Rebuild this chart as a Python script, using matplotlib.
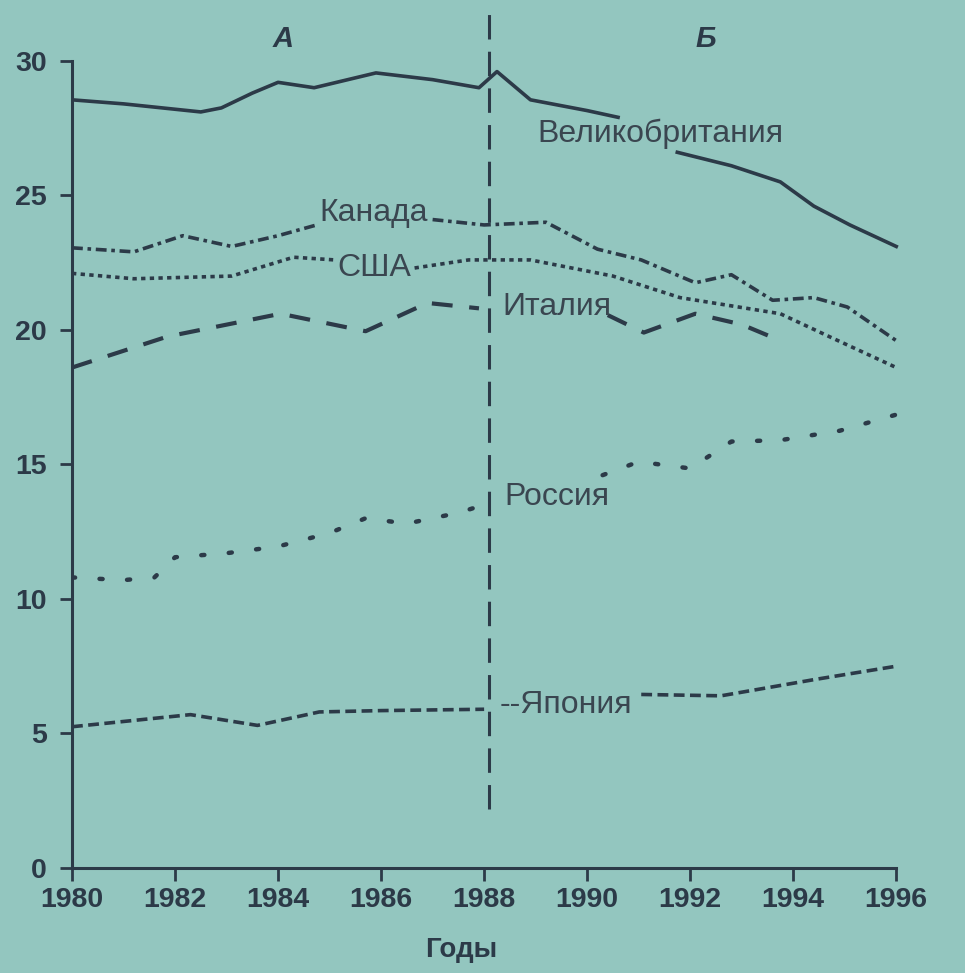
import numpy as np
import matplotlib.pyplot as plt

# Data (years, values)
uk_x1 = [1980, 1981, 1982.5, 1982.9, 1983.5, 1984, 1984.7, 1985.9, 1987, 1987.9, 1988.25, 1988.9, 1990, 1990.6]
uk_y1 = [28.55, 28.4, 28.1, 28.25, 28.8, 29.2, 29.0, 29.55, 29.3, 29.0, 29.6, 28.55, 28.15, 27.9]
uk_x2 = [1991.75, 1992.8, 1993.75, 1994.4, 1995.1, 1996]
uk_y2 = [26.6, 26.1, 25.5, 24.6, 23.9, 23.1]

can_x1 = [1980, 1981.2, 1982.15, 1983.1, 1984, 1984.75]
can_y1 = [23.05, 22.9, 23.5, 23.1, 23.5, 23.9]
can_x2 = [1987.0, 1988, 1989.2, 1990.2, 1991.05, 1992.1, 1992.8, 1993.6, 1994.4, 1995.05, 1996]
can_y2 = [24.1, 23.9, 24.0, 23.0, 22.6, 21.75, 22.05, 21.1, 21.2, 20.85, 19.6]

usa_x1 = [1980, 1981.2, 1983.1, 1984.3, 1985.1]
usa_y1 = [22.1, 21.9, 22.0, 22.7, 22.6]
usa_x2 = [1986.65, 1987.7, 1988.9, 1990.5, 1991.8, 1993.75, 1994.7, 1996]
usa_y2 = [22.3, 22.6, 22.6, 22.0, 21.2, 20.6, 19.75, 18.6]

ita_x1 = [1980, 1981.85, 1984.05, 1985.7, 1986.9, 1987.9]
ita_y1 = [18.6, 19.75, 20.6, 19.95, 21.0, 20.8]
ita_x2 = [1990.4, 1991.1, 1992.1, 1993.0, 1993.75]
ita_y2 = [20.55, 19.9, 20.6, 20.2, 19.6]

rus_x1 = [1980, 1981, 1981.6, 1982, 1983, 1984, 1985, 1985.7, 1986.5, 1987.5, 1988]
rus_y1 = [10.8, 10.7, 10.8, 11.55, 11.7, 11.95, 12.45, 13.0, 12.8, 13.2, 13.5]
rus_x2 = [1990.3, 1991, 1992, 1992.8, 1993.75, 1994.9, 1996]
rus_y2 = [14.6, 15.1, 14.85, 15.85, 15.9, 16.25, 16.85]

jap_x1 = [1980, 1982.3, 1983.6, 1984.8, 1986, 1988]
jap_y1 = [5.25, 5.7, 5.3, 5.8, 5.85, 5.9]
jap_x2 = [1991.05, 1992.6, 1994.4, 1996]
jap_y2 = [6.45, 6.4, 7.0, 7.5]

labels = ['Великобритания', 'Канада', 'США', 'Италия', 'Россия', '--Япония']
label_x = [1991.42, 1984.8, 1985.15, 1988.35, 1988.4, 1988.3]
label_y = [27.3, 24.35, 22.3, 20.85, 13.8, 6.05]
label_ha = ['center', 'left', 'left', 'left', 'left', 'left']

years = list(range(1980, 1997, 2))
yticks = [0, 5, 10, 15, 20, 25, 30]

bg = '#93c6bf'
ink = '#2c3a48'
fam = ['Liberation Sans Narrow', 'Liberation Sans', 'DejaVu Sans']

fig = plt.figure(figsize=(9.65, 9.73), dpi=100, facecolor=bg)
ax = fig.add_axes([72 / 965, 1 - 868 / 973, 850 / 965, 861 / 973], facecolor=bg)
ax.set_xlim(1980, 1996.5)
ax.set_ylim(0, 32)

lw = 2.6
ax.plot(uk_x1, uk_y1, color=ink, lw=lw)
ax.plot(uk_x2, uk_y2, color=ink, lw=lw)
for xs, ys in [(can_x1, can_y1), (can_x2, can_y2)]:
    ax.plot(xs, ys, color=ink, lw=lw, dashes=(3, 1.3, 1, 1.3))
for xs, ys in [(usa_x1, usa_y1), (usa_x2, usa_y2)]:
    ax.plot(xs, ys, color=ink, lw=lw, dashes=(1.2, 1.2))
for xs, ys in [(ita_x1, ita_y1), (ita_x2, ita_y2)]:
    ax.plot(xs, ys, color=ink, lw=lw + 0.4, dashes=(5, 4))
for xs, ys in [(rus_x1, rus_y1), (rus_x2, rus_y2)]:
    ax.plot(xs, ys, color=ink, lw=lw + 0.6, dashes=(0.7, 5.5), dash_capstyle='round')
for xs, ys in [(jap_x1, jap_y1), (jap_x2, jap_y2)]:
    ax.plot(xs, ys, color=ink, lw=lw, dashes=(3, 1.5))

# boundary between periods A and Б
ax.plot([1988.1, 1988.1], [2.2, 32], color=ink, lw=2.2, dashes=(8, 4))

for t, x, y, ha in zip(labels, label_x, label_y, label_ha):
    ax.text(x, y, t, ha=ha, va='center', fontsize=23, color='#3a4650', family=fam)

ax.text(1984.1, 30.8, 'А', ha='center', va='center', fontsize=21, color=ink,
        fontweight='bold', fontstyle='italic', family=fam)
ax.text(1992.3, 30.8, 'Б', ha='center', va='center', fontsize=21, color=ink,
        fontweight='bold', fontstyle='italic', family=fam)

ax.spines['top'].set_visible(False)
ax.spines['right'].set_visible(False)
ax.spines['left'].set_bounds(0, 30)
ax.spines['bottom'].set_bounds(1980, 1996)
for s in ('left', 'bottom'):
    ax.spines[s].set_color(ink)
    ax.spines[s].set_linewidth(2.2)

ax.set_xticks(years)
ax.set_yticks(yticks)
ax.tick_params(colors=ink, width=2, length=9, labelsize=20.5)
ax.tick_params(axis='y', pad=9)
ax.tick_params(axis='x', pad=5)
for lab in ax.get_xticklabels() + ax.get_yticklabels():
    lab.set_family(fam)
    lab.set_fontweight('bold')

fig.text(461 / 965, 1 - 950 / 973, 'Годы', ha='center', va='center', fontsize=20,
         color=ink, fontweight='bold', family=fam)

fig.savefig('out.png', dpi=100, facecolor=bg)
